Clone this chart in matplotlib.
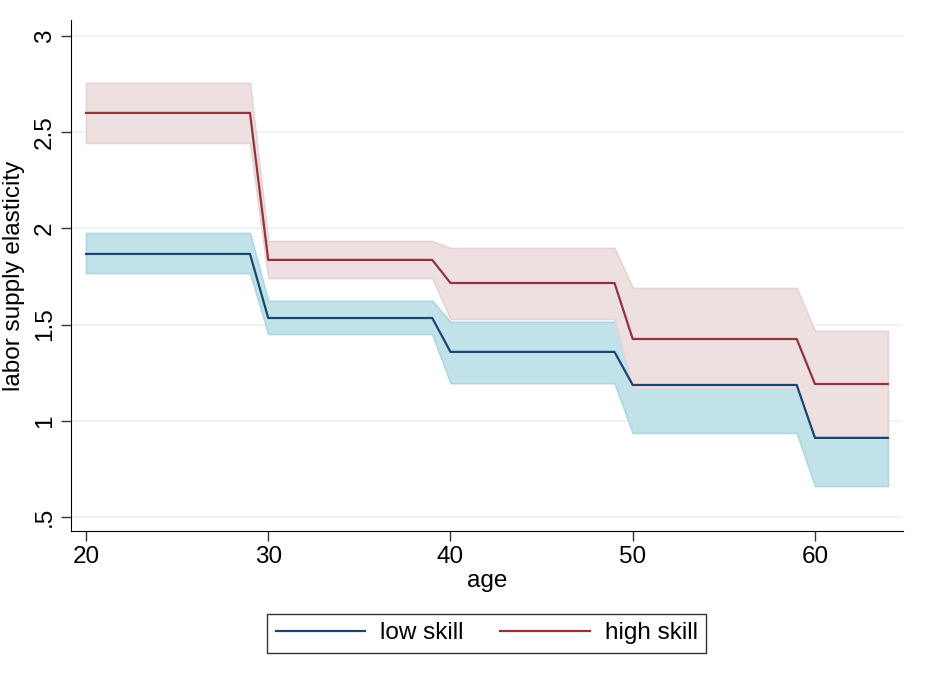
import numpy as np
import matplotlib
matplotlib.use("Agg")
import matplotlib.pyplot as plt

plt.rcParams['font.family'] = ['Liberation Sans', 'DejaVu Sans']

# age groups: estimate is constant within each decade bracket
group_start = [20, 30, 40, 50, 60]
group_end = [29, 39, 49, 59, 64]

low_est = [1.867, 1.534, 1.358, 1.186, 0.911]
low_lo = [1.768, 1.451, 1.196, 0.937, 0.661]
low_hi = [1.976, 1.623, 1.514, 1.435, 1.160]

high_est = [2.600, 1.836, 1.716, 1.425, 1.191]
high_lo = [2.444, 1.742, 1.529, 1.170, 0.918]
high_hi = [2.756, 1.934, 1.898, 1.690, 1.467]

ytick_vals = [0.5, 1, 1.5, 2, 2.5, 3]
ytick_labels = ['.5', '1', '1.5', '2', '2.5', '3']
xtick_vals = [20, 30, 40, 50, 60]


def expand(vals):
    # one value per year of age
    out = []
    for s, e, v in zip(group_start, group_end, vals):
        out += [v] * (e - s + 1)
    return np.array(out)


age = np.arange(20, 65)
fs = 17.5

fig = plt.figure(figsize=(9.25, 6.89), dpi=100)
ax = fig.add_axes([0.0768, 0.2293, 0.8994, 0.7417])

for y in ytick_vals:
    ax.axhline(y, color='#eaf2f3', lw=1.3, zorder=0)

ax.fill_between(age, expand(low_lo), expand(low_hi), facecolor='#c2e2ea',
                edgecolor='#aed7e3', lw=1.2, zorder=1)
ax.fill_between(age, expand(high_lo), expand(high_hi), facecolor='#eedfe1',
                edgecolor='#e6d3d5', lw=1.2, zorder=2)
ax.plot(age, expand(low_est), color='#1a476f', lw=1.6, zorder=3, label='low skill')
ax.plot(age, expand(high_est), color='#90353b', lw=1.6, zorder=4, label='high skill')

ax.set_xlim(19.18, 64.83)
ax.set_ylim(0.427, 3.083)
ax.set_yticks(ytick_vals)
ax.set_yticklabels(ytick_labels, rotation=90, va='center')
ax.set_xticks(xtick_vals)
ax.tick_params(labelsize=fs, length=7, width=1, color='#333333', pad=4)
ax.spines['top'].set_visible(False)
ax.spines['right'].set_visible(False)
ax.set_xlabel('age', fontsize=fs, labelpad=1)
ax.set_ylabel('labor supply elasticity', fontsize=fs, labelpad=6)

leg = fig.legend(loc='center', bbox_to_anchor=(0.526, 0.081), ncol=2,
                 fontsize=fs, frameon=True, fancybox=False, handlelength=3.7,
                 columnspacing=1.5, borderpad=0.35, handletextpad=0.6,
                 borderaxespad=0)
leg.get_frame().set_edgecolor('black')
leg.get_frame().set_linewidth(1)

fig.savefig('out.png', dpi=100, facecolor='white')
